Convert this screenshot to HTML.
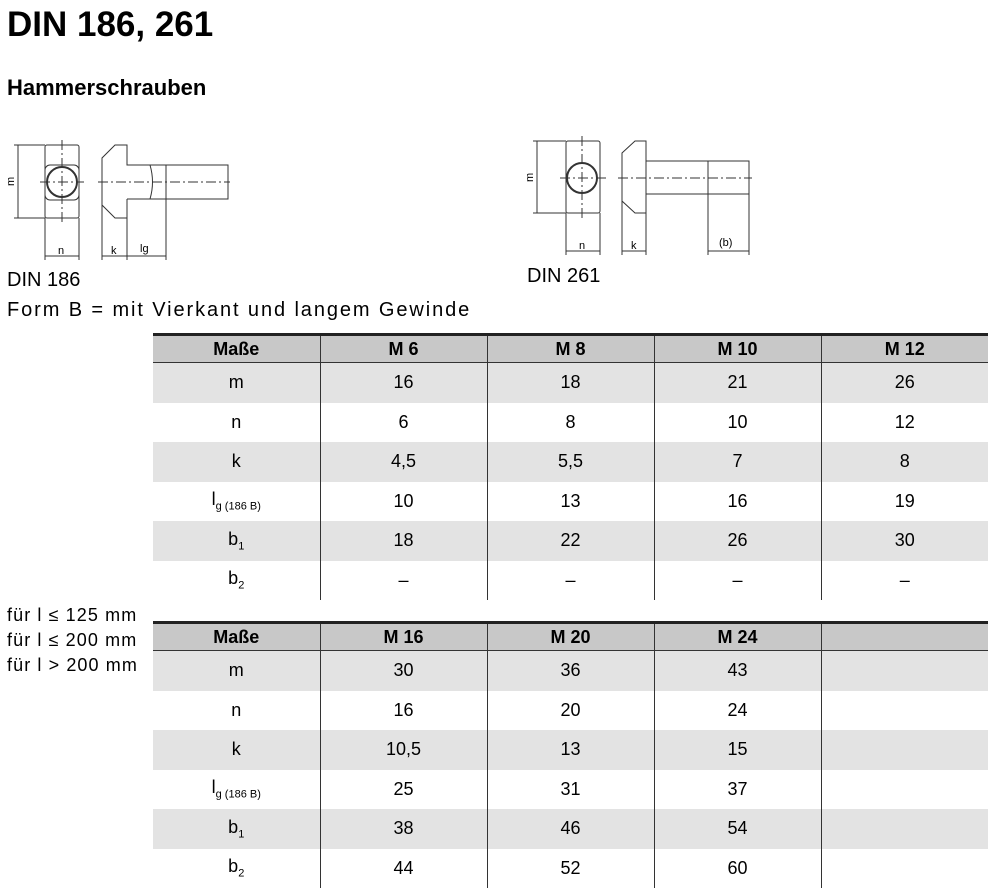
<!DOCTYPE html>
<html><head><meta charset="utf-8"><style>
body{margin:0;width:988px;height:889px;background:#fff;position:relative;overflow:hidden;font-family:"Liberation Sans",sans-serif;color:#000}
.a{position:absolute;white-space:nowrap}
table{position:absolute;left:153px;border-collapse:collapse;table-layout:fixed;width:835px}
td{text-align:center;font-size:18px;padding:0;border-left:1.5px solid #333;height:39.5px}
td:first-child{border-left:none}
tr.h td{background:#c8c8c8;font-weight:bold;height:26px;border-top:3px solid #222;border-bottom:1.5px solid #333;font-size:18px}
tr.g td{background:#e3e3e3}
sub{font-size:11px}
</style></head><body>
<div class="a" style="left:7px;top:5px;font-size:35px;font-weight:bold">DIN 186, 261</div>
<div class="a" style="left:7px;top:75px;font-size:22px;font-weight:bold">Hammerschrauben</div>
<svg class="a" style="left:0;top:0" width="988" height="330" fill="none" stroke="#333" stroke-width="1">
<!-- DIN 186 -->
<rect x="45" y="145" width="34" height="73" rx="2"/>
<rect x="45" y="165" width="34" height="35" rx="5"/>
<circle cx="62" cy="182" r="15" stroke-width="2"/>
<path d="M102 205 L102 158 L115 145 L127 145 L127 165 L166 165 M127 199 L166 199 M127 199 L127 218 L115 218 L102 205"/>
<path d="M150 165 Q155 182 150 199"/>
<rect x="166" y="165" width="62" height="34"/>
<path d="M40 182 H84 M98 182 H230 M62 140 V225" stroke-dasharray="10 3 2 3"/>
<path d="M14 145 H45 M14 218 H45 M18 145 V218 M45 218 V260 M79 218 V260 M45 256 H79 M102 205 V260 M127 218 V260 M166 199 V260 M102 256 H166"/>
<!-- DIN 261 -->
<rect x="566" y="141" width="34" height="72" rx="2"/>
<circle cx="582" cy="178" r="15" stroke-width="2"/>
<path d="M622 153 L635 141 L646 141 L646 213 L635 213 L622 201 Z M646 161 H708 M646 194 H708"/>
<rect x="708" y="161" width="41" height="33"/>
<path d="M560 178 H606 M618 178 H752 M582 136 V218" stroke-dasharray="10 3 2 3"/>
<path d="M533 141 H566 M533 213 H566 M537 141 V213 M566 213 V255 M600 213 V255 M566 251 H600 M622 201 V255 M646 213 V255 M622 251 H646 M708 194 V255 M749 194 V255 M708 251 H749"/>
<g fill="#000" stroke="none" font-family="Liberation Sans" font-size="11">
<text x="58" y="254">n</text><text x="111" y="254">k</text><text x="140" y="252">lg</text>
<text x="579" y="249">n</text><text x="631" y="249">k</text><text x="719" y="246">(b)</text>
<text transform="translate(14,186) rotate(-90)">m</text><text transform="translate(533,182) rotate(-90)">m</text>
</g>
</svg>
<div class="a" style="left:7px;top:269px;font-size:20px">DIN 186</div>
<div class="a" style="left:527px;top:265px;font-size:20px">DIN 261</div>
<div class="a" style="left:7px;top:299px;font-size:20px;letter-spacing:1.9px">Form B = mit Vierkant und langem Gewinde</div>
<div class="a" style="left:7px;top:603px;font-size:18px;line-height:25px;letter-spacing:1.1px">für l ≤ 125 mm<br>für l ≤ 200 mm<br>für l &gt; 200 mm</div>
<table style="top:333px">
<tr class="h"><td>Maße</td><td>M 6</td><td>M 8</td><td>M 10</td><td>M 12</td></tr>
<tr class="g"><td>m</td><td>16</td><td>18</td><td>21</td><td>26</td></tr>
<tr><td>n</td><td>6</td><td>8</td><td>10</td><td>12</td></tr>
<tr class="g"><td>k</td><td>4,5</td><td>5,5</td><td>7</td><td>8</td></tr>
<tr><td>l<sub>g (186 B)</sub></td><td>10</td><td>13</td><td>16</td><td>19</td></tr>
<tr class="g"><td>b<sub>1</sub></td><td>18</td><td>22</td><td>26</td><td>30</td></tr>
<tr><td>b<sub>2</sub></td><td>–</td><td>–</td><td>–</td><td>–</td></tr>
</table>
<table style="top:621px">
<tr class="h"><td>Maße</td><td>M 16</td><td>M 20</td><td>M 24</td><td></td></tr>
<tr class="g"><td>m</td><td>30</td><td>36</td><td>43</td><td></td></tr>
<tr><td>n</td><td>16</td><td>20</td><td>24</td><td></td></tr>
<tr class="g"><td>k</td><td>10,5</td><td>13</td><td>15</td><td></td></tr>
<tr><td>l<sub>g (186 B)</sub></td><td>25</td><td>31</td><td>37</td><td></td></tr>
<tr class="g"><td>b<sub>1</sub></td><td>38</td><td>46</td><td>54</td><td></td></tr>
<tr><td>b<sub>2</sub></td><td>44</td><td>52</td><td>60</td><td></td></tr>
</table>
</body></html>
